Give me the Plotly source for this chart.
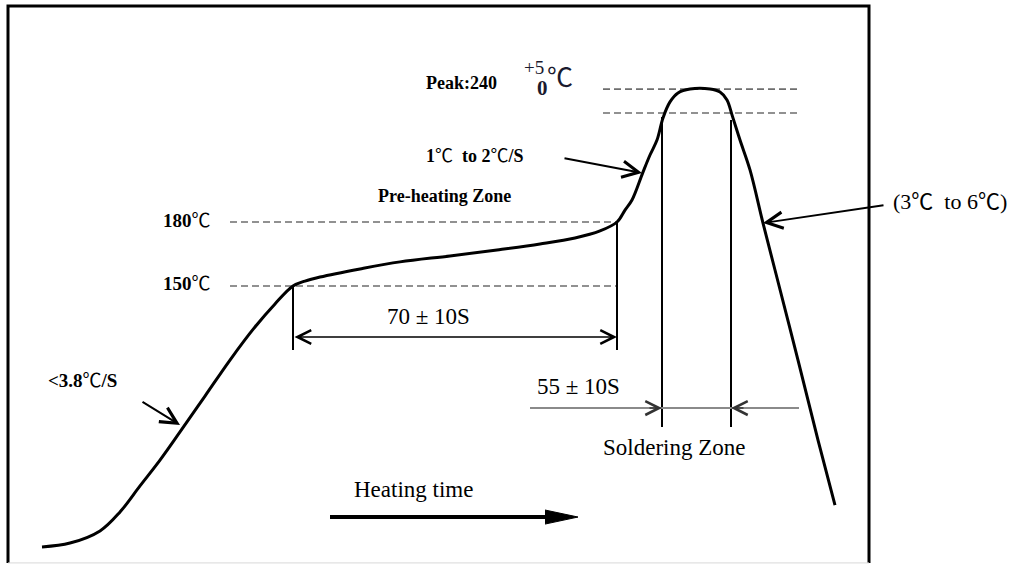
import plotly.graph_objects as go

# ---------------- data (time in drawing units, temperature in °C) ----------------
t_curve = [42, 70, 100, 120, 140, 160, 180, 205, 230, 255, 275,
           293, 305, 320, 360, 400, 450, 497, 540, 575, 600,
           617, 625, 632, 643, 650, 657, 663, 670, 678, 690,
           710, 720, 727, 732, 740, 750, 763, 775, 798, 818, 835]
T_curve = [27.7, 29.5, 35.2, 44.1, 56.3, 68.4, 81.6, 98.4, 115.3, 130.8, 141.6,
           150.0, 152.3, 154.2, 158.0, 161.3, 164.1, 166.9, 169.7, 172.5, 175.8,
           180.0, 185.6, 190.3, 203.4, 211.4, 218.4, 228.8, 236.3, 240.5, 242.3,
           242.3, 240.9, 237.2, 230.2, 218.4, 204.4, 179.5, 157.5, 115.3, 77.8, 47.3]

preheat_levels = [150, 180]          # dashed reference temperatures
preheat_span = [230, 617]
peak_levels = [242.3, 231.1]         # upper / lower peak dashed lines
peak_spans = [[603, 797], [603, 800]]

preheat_start, preheat_end = 293, 617     # 70±10 s window
preheat_bottom = 120.0
preheat_dim_T = 126.1

solder_start, solder_end = 662, 731       # 55±10 s window
solder_tops = [229.2, 227.8]
solder_bottom = 83.9
solder_dim_T = 92.8
solder_dim_span = [530, 799]

frame_x = [8, 869]
frame_T = [20.2, 281.25]
x_range = [0, 1023]
T_range = [19.22, 284.06]

heat_arrow_x = [330, 578]
heat_arrow_T = 41.7
heat_head_len = 33
heat_head_half = 3.3

slope_arrows = [  # tail_x, tail_T, head_x, head_T
    (141, 96.1, 180, 84.8),
    (563, 210.0, 642, 203.0),
    (885, 188.0, 763, 179.5),
]

SERIF = "Liberation Serif, Times New Roman, Noto Sans CJK SC, serif"

fig = go.Figure()

# frame
fig.add_trace(go.Scatter(x=[frame_x[0], frame_x[0], frame_x[1], frame_x[1]],
                         y=[frame_T[0], frame_T[1], frame_T[1], frame_T[0]],
                         mode="lines", line=dict(color="black", width=3),
                         hoverinfo="skip", showlegend=False, cliponaxis=False))
fig.add_trace(go.Scatter(x=frame_x, y=[frame_T[0], frame_T[0]], mode="lines",
                         line=dict(color="#d8d8d8", width=1),
                         hoverinfo="skip", showlegend=False))

# dashed reference lines
for lv in preheat_levels:
    fig.add_trace(go.Scatter(x=preheat_span, y=[lv, lv], mode="lines",
                             line=dict(color="#6e6e6e", width=1.6, dash="7px,4px"),
                             hoverinfo="skip", showlegend=False))
for lv, sp in zip(peak_levels, peak_spans):
    fig.add_trace(go.Scatter(x=sp, y=[lv, lv], mode="lines",
                             line=dict(color="#6e6e6e", width=1.6, dash="7px,4px"),
                             hoverinfo="skip", showlegend=False))

# vertical markers
fig.add_trace(go.Scatter(x=[preheat_start, preheat_start], y=[preheat_levels[0], preheat_bottom],
                         mode="lines", line=dict(color="black", width=2),
                         hoverinfo="skip", showlegend=False))
fig.add_trace(go.Scatter(x=[preheat_end, preheat_end], y=[preheat_levels[1], preheat_bottom],
                         mode="lines", line=dict(color="black", width=2),
                         hoverinfo="skip", showlegend=False))
for xv, top in zip([solder_start, solder_end], solder_tops):
    fig.add_trace(go.Scatter(x=[xv, xv], y=[top, solder_bottom], mode="lines",
                             line=dict(color="black", width=2),
                             hoverinfo="skip", showlegend=False))

# soldering dimension line (grey)
fig.add_trace(go.Scatter(x=solder_dim_span, y=[solder_dim_T, solder_dim_T], mode="lines",
                         line=dict(color="#8a8a8a", width=2),
                         hoverinfo="skip", showlegend=False))

# profile curve
fig.add_trace(go.Scatter(x=t_curve, y=T_curve, mode="lines",
                         line=dict(color="black", width=3, shape="spline", smoothing=1.0),
                         hoverinfo="skip", showlegend=False))

# heating-time arrow
fig.add_trace(go.Scatter(x=[heat_arrow_x[0], heat_arrow_x[1] - heat_head_len + 2],
                         y=[heat_arrow_T, heat_arrow_T], mode="lines",
                         line=dict(color="black", width=4),
                         hoverinfo="skip", showlegend=False))
fig.add_trace(go.Scatter(x=[heat_arrow_x[1] - heat_head_len, heat_arrow_x[1], heat_arrow_x[1] - heat_head_len],
                         y=[heat_arrow_T + heat_head_half, heat_arrow_T, heat_arrow_T - heat_head_half],
                         mode="lines", fill="toself", fillcolor="black",
                         line=dict(color="black", width=1),
                         hoverinfo="skip", showlegend=False))

ann = []
# slope arrows
for tx, tT, hx, hT in slope_arrows:
    ann.append(dict(x=hx, y=hT, ax=tx, ay=tT, xref="x", yref="y", axref="x", ayref="y",
                    text="", showarrow=True, arrowhead=5, arrowsize=1.6, arrowwidth=2,
                    arrowcolor="black", standoff=0))
# 70±10S double arrow
ann.append(dict(x=preheat_end, y=preheat_dim_T, ax=preheat_start, ay=preheat_dim_T,
                xref="x", yref="y", axref="x", ayref="y", text="", showarrow=True,
                arrowhead=5, startarrowhead=5, arrowside="end+start",
                arrowsize=1.8, startarrowsize=1.8, arrowwidth=1.5, arrowcolor="black",
                standoff=0, startstandoff=0))
# 55±10S inward arrow heads
ann.append(dict(x=solder_start, y=solder_dim_T, ax=solder_start - 14, ay=solder_dim_T,
                xref="x", yref="y", axref="x", ayref="y", text="", showarrow=True,
                arrowhead=5, arrowsize=1.8, arrowwidth=1.5, arrowcolor="#333333", standoff=0))
ann.append(dict(x=solder_end, y=solder_dim_T, ax=solder_end + 14, ay=solder_dim_T,
                xref="x", yref="y", axref="x", ayref="y", text="", showarrow=True,
                arrowhead=5, arrowsize=1.8, arrowwidth=1.5, arrowcolor="#333333", standoff=0))

def label(text, x, y, size, xanchor="left", color="black"):
    ann.append(dict(x=x, y=y, xref="x", yref="y", text=text, showarrow=False,
                    xanchor=xanchor, yanchor="middle",
                    font=dict(family=SERIF, size=size, color=color)))

label("<b>Peak:240</b>", 424, 245.2, 18)
label("+5", 534, 252.2, 19, xanchor="center", color="#1a1a2e")
label("<b>0</b>", 542, 242.8, 21, xanchor="center", color="#1a1a2e")
label("℃", 545, 247.5, 26, color="#1a1a2e")
label("<b>1</b>℃  <b>to 2</b>℃<b>/S</b>", 424, 210.9, 18)
label("<b>Pre-heating Zone</b>", 444, 192.2, 18, xanchor="center")
label("<b>180</b>℃", 213, 180.9, 19, xanchor="right")
label("<b>150</b>℃", 213, 151.4, 19, xanchor="right")
label("<b>&lt;3.8</b>℃<b>/S</b>", 46, 105.5, 19)
label("70 ± 10S", 428, 135.5, 23, xanchor="center")
label("55 ± 10S", 578, 102.7, 23, xanchor="center")
label("Soldering Zone", 674, 74.1, 23, xanchor="center")
label("(3℃  to 6℃)", 891, 189.4, 22)
label("Heating time", 413, 54.4, 23, xanchor="center")

fig.update_layout(
    width=1023, height=565,
    margin=dict(l=0, r=0, t=0, b=0),
    paper_bgcolor="white", plot_bgcolor="white",
    xaxis=dict(range=x_range, visible=False, fixedrange=True),
    yaxis=dict(range=T_range, visible=False, fixedrange=True),
    annotations=ann,
    showlegend=False,
)

fig.write_html("out.html",
               config={"displayModeBar": False},
               post_script="document.body.style.margin='0px';document.body.style.overflow='hidden';")
